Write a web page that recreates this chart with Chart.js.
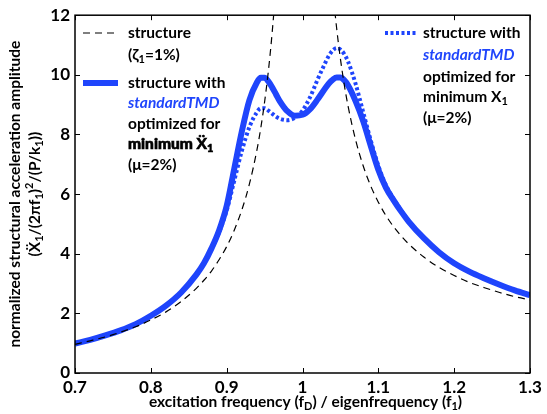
<!DOCTYPE html>
<html>
<head>
<meta charset="utf-8">
<script src="https://cdn.jsdelivr.net/npm/chart.js@4.4.1/dist/chart.umd.min.js"></script>
<style>
  html, body { margin: 0; padding: 0; background: #fff; }
  #wrap { width: 547px; height: 414px; }
</style>
</head>
<body>
<div id="wrap"><canvas id="chart" width="547" height="414"></canvas></div>
<script>
// frequency ratio f/f1 (shared sample grid)
const freq = [
  0.70, 0.72, 0.74, 0.76, 0.78, 0.80, 0.82, 0.84, 0.86, 0.87,
  0.88, 0.89, 0.90, 0.91, 0.92, 0.93, 0.94, 0.945, 0.95, 0.955,
  0.96, 0.965, 0.97, 0.98, 0.99, 1.00, 1.01, 1.02, 1.03, 1.035,
  1.04, 1.045, 1.05, 1.055, 1.06, 1.07, 1.08, 1.09, 1.10, 1.11,
  1.12, 1.13, 1.14, 1.16, 1.18, 1.20, 1.22, 1.24, 1.26, 1.28, 1.30
];

// structure alone, zeta1 = 1% (goes far above the plot near 1.0)
const structureOnly = [
  0.96, 1.08, 1.21, 1.37, 1.55, 1.78, 2.05, 2.40, 2.84, 3.11,
  3.42, 3.80, 4.24, 4.79, 5.47, 6.34, 7.49, 8.22, 9.09, 10.13,
  11.42, 13.03, 15.13, 21.7, 34.9, 50.0, 35.8, 23.0, 16.5, 14.44,
  12.84, 11.57, 10.54, 9.68, 8.96, 7.82, 6.95, 6.27, 5.73, 5.28,
  4.91, 4.60, 4.33, 3.89, 3.54, 3.27, 3.04, 2.86, 2.70, 2.56, 2.45
];

// with standard TMD tuned for minimum acceleration
const tmdAccel = [
  0.99, 1.11, 1.26, 1.43, 1.64, 1.92, 2.26, 2.70, 3.30, 3.68,
  4.18, 4.78, 5.60, 6.85, 8.10, 9.15, 9.75, 9.90, 9.90, 9.78,
  9.58, 9.35, 9.12, 8.78, 8.63, 8.66, 8.85, 9.18, 9.55, 9.72,
  9.84, 9.91, 9.91, 9.82, 9.65, 9.12, 8.45, 7.62, 6.82, 6.22,
  5.80, 5.42, 5.08, 4.52, 4.05, 3.68, 3.40, 3.17, 2.96, 2.77, 2.61
];

// with standard TMD tuned for minimum displacement
const tmdDispl = [
  0.99, 1.11, 1.26, 1.43, 1.64, 1.92, 2.26, 2.70, 3.30, 3.68,
  4.16, 4.72, 5.45, 6.45, 7.45, 8.25, 8.75, 8.88, 8.88, 8.80,
  8.70, 8.60, 8.53, 8.48, 8.56, 8.80, 9.25, 9.85, 10.40, 10.65,
  10.82, 10.90, 10.85, 10.70, 10.45, 9.70, 8.75, 7.80, 6.95, 6.30,
  5.85, 5.45, 5.10, 4.52, 4.05, 3.68, 3.40, 3.17, 2.96, 2.77, 2.61
];

const xTicks = [0.7, 0.8, 0.9, 1.0, 1.1, 1.2, 1.3];
const xTickLabels = ['0.7', '0.8', '0.9', '1', '1.1', '1.2', '1.3'];
const yTicks = [0, 2, 4, 6, 8, 10, 12];

const BLUE = '#1f45fc';
const FONT = 'Lato, "DejaVu Sans", sans-serif';

const pts = arr => freq.map((x, i) => ({ x, y: arr[i] }));

// draw a row of text pieces; piece = [text, opts]
function fontOf(o, size) {
  let s = size;
  if (o.sub || o.sup) s = Math.round(size * 0.72);
  return `${o.it ? 'italic ' : ''}${o.w || 'bold'} ${s}px ${FONT}`;
}
function richWidth(ctx, pieces, size) {
  let w = 0;
  pieces.forEach(([t, o = {}]) => {
    ctx.font = fontOf(o, size);
    w += ctx.measureText(t).width;
  });
  return w;
}
function drawRich(ctx, pieces, x, y, size, align) {
  let cx = x;
  if (align === 'center') cx = x - richWidth(ctx, pieces, size) / 2;
  ctx.textBaseline = 'middle';
  ctx.textAlign = 'left';
  pieces.forEach(([t, o = {}]) => {
    ctx.font = fontOf(o, size);
    ctx.fillStyle = o.c || '#000';
    let dy = 0;
    if (o.sub) dy = size * 0.28;
    if (o.sup) dy = -size * 0.38;
    ctx.fillText(t, cx, y + dy);
    if (o.heavy) {
      ctx.strokeStyle = o.c || '#000';
      ctx.lineWidth = 0.7;
      ctx.strokeText(t, cx, y + dy);
    }
    cx += ctx.measureText(t).width;
  });
}

const framePlugin = {
  id: 'frame',
  afterDraw(chart) {
    const { ctx, chartArea: a, scales } = chart;
    ctx.save();
    // box
    ctx.strokeStyle = '#000';
    ctx.lineWidth = 1.5;
    ctx.strokeRect(a.left, a.top, a.right - a.left, a.bottom - a.top);
    // inward ticks on all four sides
    ctx.lineWidth = 1;
    ctx.beginPath();
    xTicks.forEach(v => {
      const px = Math.round(scales.x.getPixelForValue(v)) + 0.5;
      ctx.moveTo(px, a.bottom); ctx.lineTo(px, a.bottom - 5);
      ctx.moveTo(px, a.top); ctx.lineTo(px, a.top + 5);
    });
    yTicks.forEach(v => {
      const py = Math.round(scales.y.getPixelForValue(v)) + 0.5;
      ctx.moveTo(a.left, py); ctx.lineTo(a.left + 5, py);
      ctx.moveTo(a.right, py); ctx.lineTo(a.right - 5, py);
    });
    ctx.stroke();

    // legend keys
    ctx.lineCap = 'butt';
    ctx.strokeStyle = '#000';
    ctx.lineWidth = 1.2;
    ctx.setLineDash([7, 5]);
    ctx.beginPath(); ctx.moveTo(83, 33); ctx.lineTo(118, 33); ctx.stroke();
    ctx.setLineDash([]);
    ctx.strokeStyle = BLUE;
    ctx.lineWidth = 6;
    ctx.beginPath(); ctx.moveTo(83, 83); ctx.lineTo(118, 83); ctx.stroke();
    ctx.lineWidth = 4;
    ctx.setLineDash([3, 2.5]);
    ctx.beginPath(); ctx.moveTo(385, 33); ctx.lineTo(418, 33); ctx.stroke();
    ctx.setLineDash([]);

    const S = 15.5;
    const sd = ['standardTMD', { it: true, c: BLUE }];
    const sub1 = ['1', { sub: true }];
    // left annotation
    drawRich(ctx, [['structure']], 128, 33, S);
    drawRich(ctx, [['(ζ'], sub1, ['=1%)']], 128, 55, S);
    drawRich(ctx, [['structure with']], 128, 83, S);
    drawRich(ctx, [sd], 128, 103, S);
    drawRich(ctx, [['optimized for']], 128, 124, S);
    drawRich(ctx, [['minimum ', { w: '900', heavy: true }], ['Ẍ', { heavy: true }], ['1', { sub: true, heavy: true }]], 128, 144, S);
    drawRich(ctx, [['(μ=2%)']], 128, 165, S);
    // right annotation
    drawRich(ctx, [['structure with']], 423, 33, S);
    drawRich(ctx, [sd], 423, 55, S);
    drawRich(ctx, [['optimized for']], 423, 77, S);
    drawRich(ctx, [['minimum X'], sub1], 423, 97, S);
    drawRich(ctx, [['(μ=2%)']], 423, 118, S);

    // axis titles
    const T = 15.5;
    drawRich(ctx, [
      ['excitation frequency (f'], ['D', { sub: true }],
      [') / eigenfrequency (f'], sub1, [')']
    ], (a.left + a.right) / 2 + 3, 402, T, 'center');

    ctx.translate(0, (a.top + a.bottom) / 2);
    ctx.rotate(-Math.PI / 2);
    drawRich(ctx, [['normalized structural acceleration amplitude']], 0, 15, T, 'center');
    drawRich(ctx, [
      ['('], ['Ẍ'], sub1, ['/(2πf'], sub1,
      [')'], ['2', { sup: true }], ['/(P/k'], sub1, ['))']
    ], 0, 35, T, 'center');
    ctx.restore();
  }
};

new Chart(document.getElementById('chart'), {
  type: 'line',
  data: {
    datasets: [
      {
        label: 'structure (ζ1=1%)',
        data: pts(structureOnly),
        borderColor: '#000',
        borderWidth: 1.2,
        borderDash: [7, 5],
        pointRadius: 0,
        cubicInterpolationMode: 'monotone',
        fill: false
      },
      {
        label: 'structure with standardTMD optimized for minimum X1 (μ=2%)',
        data: pts(tmdDispl),
        borderColor: BLUE,
        borderWidth: 4,
        borderDash: [3, 2.5],
        pointRadius: 0,
        cubicInterpolationMode: 'monotone',
        fill: false
      },
      {
        label: 'structure with standardTMD optimized for minimum Ẍ1 (μ=2%)',
        data: pts(tmdAccel),
        borderColor: BLUE,
        borderWidth: 6,
        pointRadius: 0,
        cubicInterpolationMode: 'monotone',
        fill: false
      }
    ]
  },
  options: {
    responsive: false,
    animation: false,
    devicePixelRatio: 1,
    layout: { padding: { left: 0, top: 14, right: 17, bottom: 0 } },
    plugins: { legend: { display: false }, tooltip: { enabled: false } },
    scales: {
      x: {
        type: 'linear',
        min: 0.7,
        max: 1.3,
        afterBuildTicks: s => { s.ticks = xTicks.map(v => ({ value: v })); },
        afterFit: s => { s.height = 41; },
        grid: { display: false, drawTicks: false },
        border: { display: false },
        ticks: {
          padding: 4,
          color: '#000',
          font: { family: FONT, size: 17, weight: 'bold' },
          callback: (v) => xTickLabels[xTicks.findIndex(t => Math.abs(t - v) < 1e-9)] ?? ''
        }
      },
      y: {
        min: 0,
        max: 12,
        afterBuildTicks: s => { s.ticks = yTicks.map(v => ({ value: v })); },
        afterFit: s => { s.width = 75; },
        grid: { display: false, drawTicks: false },
        border: { display: false },
        ticks: {
          padding: 5,
          color: '#000',
          font: { family: FONT, size: 17, weight: 'bold' }
        }
      }
    }
  },
  plugins: [framePlugin]
});
</script>
</body>
</html>
